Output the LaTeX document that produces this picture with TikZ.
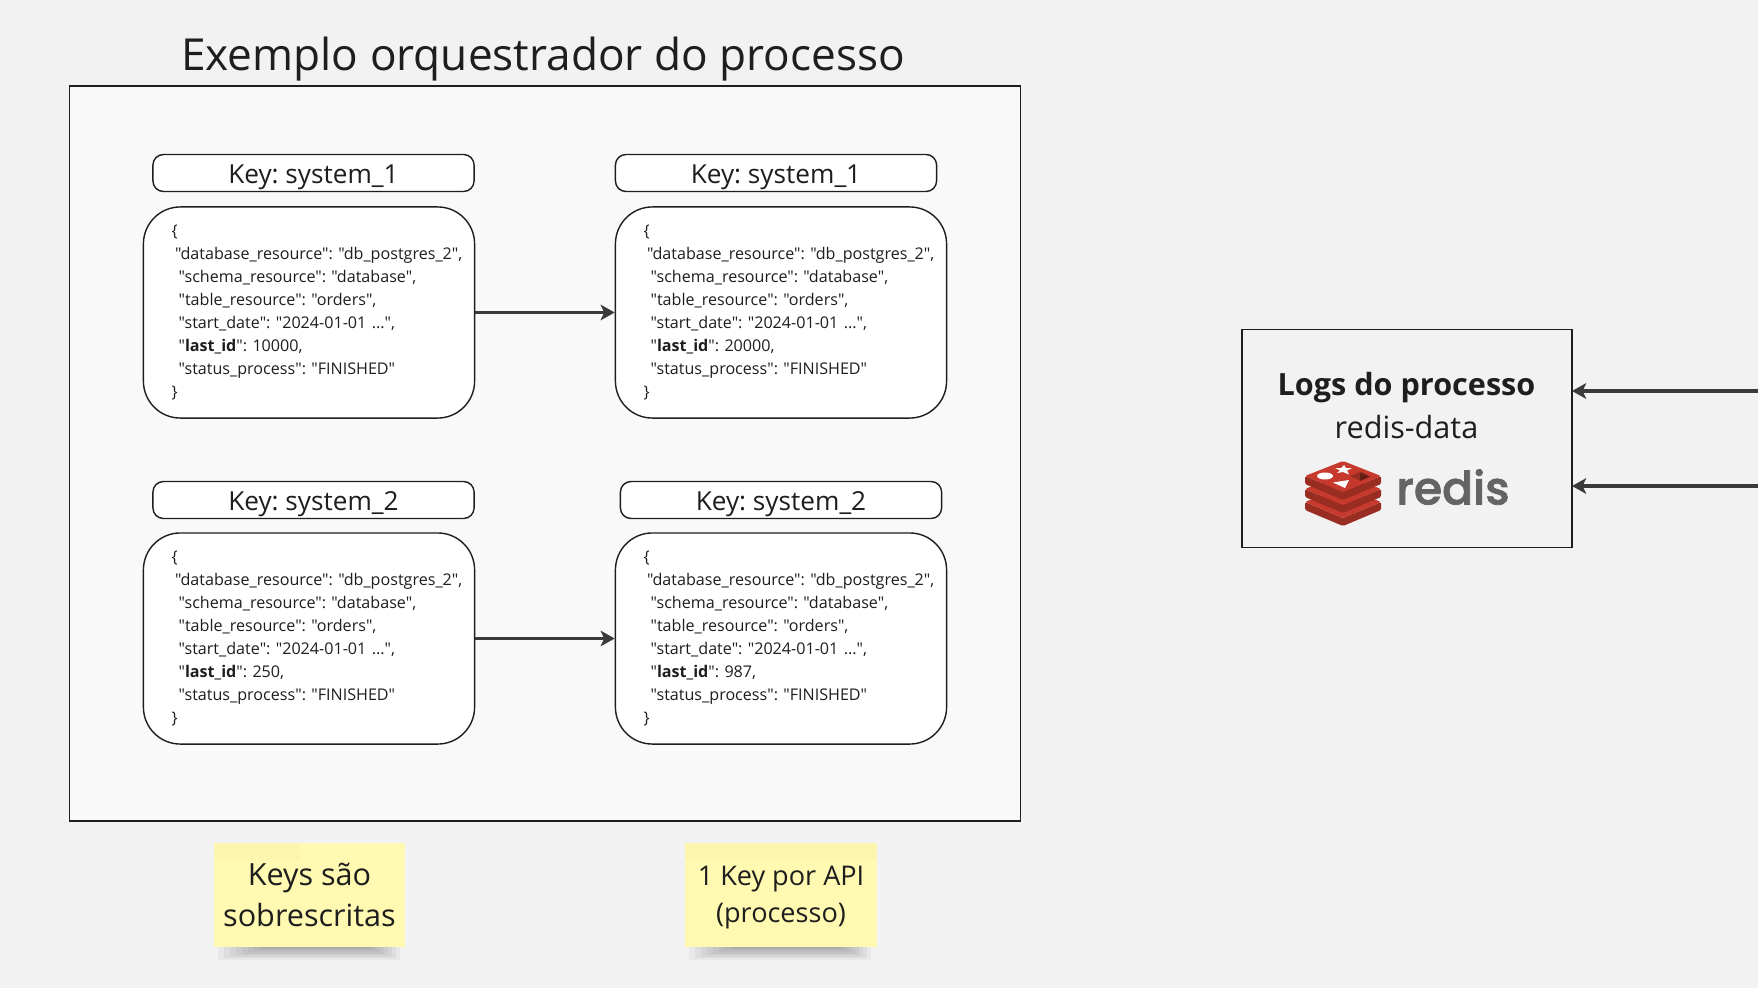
\documentclass[tikz,border=0pt]{standalone}
\usepackage{fontspec}
\setmainfont[Ligatures=TeXOff]{Open Sans}
\newfontfamily\redisfont[FakeBold=1.6]{Poppins Medium}
\usetikzlibrary{positioning, arrows.meta}
\frenchspacing
\definecolor{pagegray}{HTML}{F2F2F2}
\definecolor{framegray}{HTML}{F9F9F9}
\definecolor{inkgray}{HTML}{1E1E1E}
\definecolor{arrowgray}{HTML}{3A3A3A}
\definecolor{notecolor}{HTML}{FFF9B1}
\definecolor{redisred}{HTML}{C6392C}
\definecolor{redisdark}{HTML}{9A2D21}
\definecolor{redisgray}{HTML}{636466}
\tikzset{
    framebox/.style={draw=inkgray, line width=0.4pt, rectangle, inner sep=0pt},
    keybox/.style={draw=inkgray, fill=white, rounded corners=3pt, line width=0.4pt, minimum width=321*0.2845pt, minimum height=37*0.2845pt, inner sep=0pt, font=\fontsize{7.45}{10}\selectfont, text=inkgray, text height=7.9pt, text depth=2pt},
    jsonbox/.style={draw=inkgray, fill=white, rounded corners=10.5pt, line width=0.4pt, minimum width=331*0.2845pt, minimum height=211*0.2845pt, inner sep=0pt, text width=331*0.2845pt, font=\fontsize{4.58}{6.55}\selectfont, text=inkgray, align=left},
    notebox/.style={fill=notecolor, inner sep=0pt, minimum width=191*0.2845pt, minimum height=104*0.2845pt, align=center, text=inkgray},
    noteband/.style={fill=black, opacity=0.015},
    noteshade/.style={fill=black, opacity=0.04},
    flow/.style={-{Stealth[length=4pt, width=4.4pt, inset=1pt]}, draw=arrowgray, line width=1.05pt},
}
\newcommand{\jsonlines}[1]{\hspace*{8pt}\{\\
\hspace*{9pt}"database\_resource": "db\_postgres\_2",\\
\hspace*{10pt}"schema\_resource": "database",\\
\hspace*{10pt}"table\_resource": "orders",\\
\hspace*{10pt}"start\_date": "2024-01-01 ...",\\
\hspace*{10pt}"\textbf{last\_id}": #1,\\
\hspace*{10pt}"status\_process": "FINISHED"\\
\hspace*{8pt}\}}
\begin{document}
\begin{tikzpicture}[x=0.01cm, y=-0.01cm]
    \useasboundingbox[fill=pagegray] (0, 0) rectangle (1758, 988);

    \node[text=inkgray, font=\fontsize{12.55}{14}\selectfont] (title) at (543, 59.5) {Exemplo orquestrador do processo};
    \node[framebox, fill=framegray, minimum width=951*0.2845pt, minimum height=735*0.2845pt] (frame) at (545, 453.5) {};

    \node[keybox] (key1a) at (313.5, 173) {Key: system\_1};
    \node[keybox] (key1b) at (776, 173) {Key: system\_1};
    \node[keybox] (key2a) at (313.5, 500) {Key: system\_2};
    \node[keybox] (key2b) at (781, 500) {Key: system\_2};

    \node[jsonbox] (json1a) at (309, 312.5) {\jsonlines{10000}};
    \node[jsonbox] (json1b) at (781, 312.5) {\jsonlines{20000}};
    \node[jsonbox] (json2a) at (309, 638.5) {\jsonlines{250}};
    \node[jsonbox] (json2b) at (781, 638.5) {\jsonlines{987}};

    \draw[flow] (json1a) to (json1b);
    \draw[flow] (json2a) to (json2b);

    % sticky notes
    \foreach \n in {0, 1, 2, 3, 4, 5, 6, 7} {
        \fill[noteshade] (218+\n*6, 944) rectangle (400-\n*4, 960-\n*1.6);
        \fill[noteshade] (689+\n*6, 944) rectangle (871-\n*4, 960-\n*1.6);
    }
    \node[notebox, font=\fontsize{8.7}{11.9}\selectfont] (note1) at (309.5, 895) {Keys são\\sobrescritas};
    \node[notebox, font=\fontsize{7.7}{10.6}\selectfont] (note2) at (781, 895) {\rule{0pt}{6.9pt}1 Key por API\\(processo)};
    \fill[noteband] (214, 843) rectangle (300, 860);
    \fill[noteband] (685, 843) rectangle (877, 860);

    % logs box
    \node[framebox, minimum width=330*0.2845pt, minimum height=218*0.2845pt] (logs) at (1407, 438.5) {};
    \node[text=inkgray, font=\fontsize{8.7}{10}\selectfont\bfseries] (logstitle) at (1406.5, 387.5) {Logs do processo};
    \node[text=inkgray, font=\fontsize{8.7}{10}\selectfont] (logsname) at (1406.5, 427) {redis-data};
    \coordinate (in1) at (1758, 391);
    \coordinate (in2) at (1758, 486);
    \coordinate (out1) at (1572, 391);
    \coordinate (out2) at (1572, 486);
    \draw[flow] (in1) to (out1);
    \draw[flow] (in2) to (out2);

    % redis logo
    \foreach \dy in {26, 13, 0} {
        \fill[redisdark, rounded corners=0.4pt] (1305, 476+\dy) -- (1343, 492+\dy) -- (1381, 476+\dy) -- (1381, 484+\dy) -- (1343, 500+\dy) -- (1305, 484+\dy) -- cycle;
        \fill[redisred, rounded corners=0.4pt] (1305, 476+\dy) -- (1343, 461+\dy) -- (1381, 476+\dy) -- (1343, 492+\dy) -- cycle;
    }
    \fill[white] (1325, 476) ellipse (8 and 3.5);
    \fill[white] (1333, 482.5) -- (1349, 480) -- (1345, 488) -- cycle;
    \fill[white] (1344, 465) -- (1346, 468) -- (1352, 468) -- (1347, 470.5) -- (1349, 474.5) -- (1343, 472) -- (1337, 473) -- (1340, 470.5) -- (1335, 468) -- (1341, 468) -- cycle;
    \fill[redisdark] (1350, 476) -- (1361.5, 471.5) -- (1370, 476.5) -- (1360, 481) -- cycle;
    \fill[redisdark!65!black] (1360, 473) -- (1370, 476.5) -- (1360, 481) -- cycle;
    \node[text=redisgray, font=\fontsize{13}{14}\redisfont\selectfont] (redislogo) at (1453, 487) {redis};
\end{tikzpicture}
\end{document}
